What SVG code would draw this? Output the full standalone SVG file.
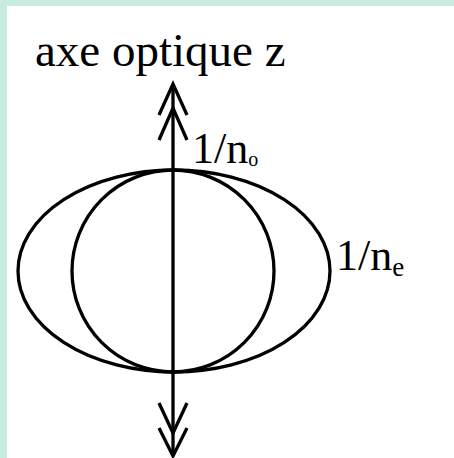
<svg xmlns="http://www.w3.org/2000/svg" width="454" height="458" viewBox="0 0 454 458">
<style>
.ln{fill:none;stroke:#000;stroke-width:3.3}
.t{font-family:"Liberation Serif","Times New Roman",serif;fill:#000}
</style>
<rect width="454" height="458" fill="#c8eadf"/>
<rect x="7" y="6" width="447" height="452" fill="#fff"/>
<g id="ellipse"><ellipse class="ln" cx="174" cy="271" rx="156" ry="101"/></g>
<g id="circle"><circle class="ln" cx="173" cy="271" r="101"/></g>
<g id="connectors">
<line class="ln" x1="173" y1="84" x2="173" y2="456"/>
<polyline class="ln" points="159,115 173,84 187,115"/>
<polyline class="ln" points="159,140 173,108 187,140"/>
<polyline class="ln" points="159,403 173,433 187,403"/>
<polyline class="ln" points="159,428 173,456 187,428"/>
</g>
<g id="label-axe"><text class="t" x="35" y="66" font-size="47">axe optique z</text></g>
<g id="label-no"><text class="t" x="192" y="163" font-size="44">1/n<tspan font-size="20" dy="3">o</tspan></text></g>
<g id="label-ne"><text class="t" x="336" y="270" font-size="44">1/n<tspan font-size="27" dy="6">e</tspan></text></g>
</svg>
